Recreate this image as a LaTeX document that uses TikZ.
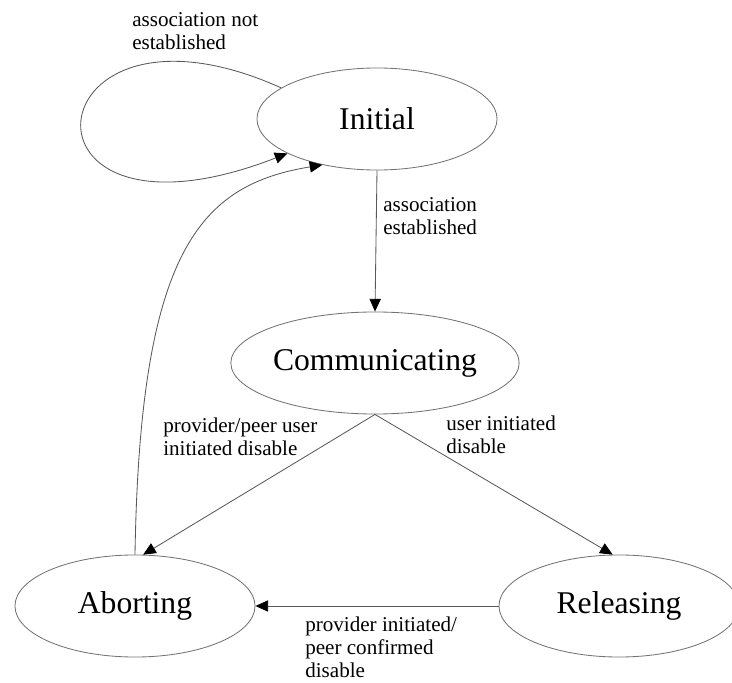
\documentclass[tikz,border=0pt]{standalone}
\usepackage{fontspec}
\setmainfont{Liberation Serif}
\usetikzlibrary{shapes.geometric,arrows.meta}

\tikzset{
  state/.style={ellipse, draw=black!55, line width=0.6pt, minimum width=6cm,
    minimum height=2.55cm, inner sep=0pt, font=\fontsize{22.5}{27}\selectfont},
  lbl/.style={align=left, anchor=west, inner sep=0pt,
    font=\fontsize{15}{16.4}\selectfont},
  trans/.style={draw=black!65, line width=0.6pt,
    -{Triangle[length=9pt,width=8pt,black]}}
}

\begin{document}
\begin{tikzpicture}[x=0.025cm, y=-0.025cm]
    \useasboundingbox (0,0) rectangle (732,683);

    % States
    \node[state] (init) at (377,119) {Initial};
    \node[state] (comm) at (375,363) {Communicating};
    \node[state] (abort) at (135,606) {Aborting};
    \node[state] (rel) at (619,606) {Releasing};

    % Self loop on the initial state
    \draw[trans] (init.162) .. controls (30,-25) and (0,265) .. (init.201);
    \node[lbl] (lblloop) at (132,31.5) {association not\\established};

    % Initial -> Communicating
    \draw[trans] (init.south) -- (comm.north);
    \node[lbl] (lblest) at (383,216.5) {association\\established};

    % Communicating -> Aborting / Releasing
    \draw[trans] (comm.south) -- (abort.81);
    \node[lbl] (lblpeer) at (163,437) {provider/peer user\\initiated disable};
    \draw[trans] (comm.south) -- (rel.97);
    \node[lbl] (lbluser) at (446,434.5) {user initiated\\disable};

    % Releasing -> Aborting
    \draw[trans] (rel.west) -- (abort.east);
    \node[lbl] (lblconf) at (305,647) {provider initiated/\\peer confirmed\\disable};

    % Aborting -> Initial
    \draw[trans] (abort.north) .. controls (140,250) and (200,185) .. (init.220);

\end{tikzpicture}
\end{document}
